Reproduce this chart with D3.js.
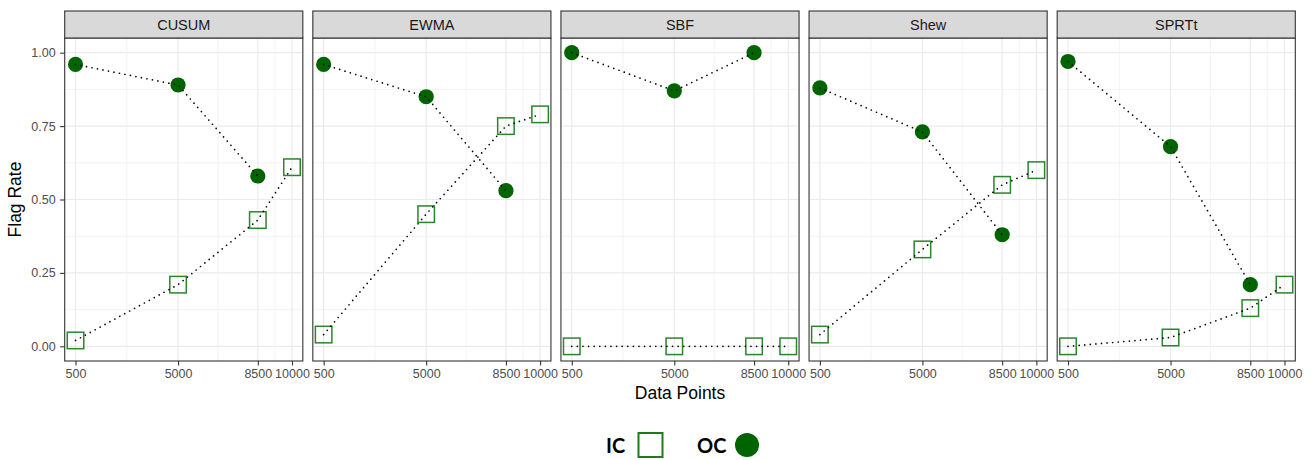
<!DOCTYPE html>
<html>
<head>
<meta charset="utf-8">
<script src="https://cdn.jsdelivr.net/npm/d3@7"></script>
<style>
  html, body { margin: 0; padding: 0; background: #ffffff; }
  svg { display: block; }
</style>
</head>
<body>
<svg id="chart" width="1312" height="460"></svg>
<script>
// Facets, sample sizes and flag rates per monitoring method
const methods = ["CUSUM", "EWMA", "SBF", "Shew", "SPRTt"];
const xTicks = [500, 5000, 8500, 10000];
const yTicks = [0, 0.25, 0.5, 0.75, 1];
const icSizes = [500, 5000, 8500, 10000];
const ocSizes = [500, 5000, 8500];
// in-control flag rate, one row per method
const icRate = [
  [0.02, 0.21, 0.43, 0.61],
  [0.04, 0.45, 0.75, 0.79],
  [0.00, 0.00, 0.00, 0.00],
  [0.04, 0.33, 0.55, 0.60],
  [0.00, 0.03, 0.13, 0.21]
];
// out-of-control flag rate, one row per method
const ocRate = [
  [0.96, 0.89, 0.58],
  [0.96, 0.85, 0.53],
  [1.00, 0.87, 1.00],
  [0.88, 0.73, 0.38],
  [0.97, 0.68, 0.21]
];
const legendLabels = ["IC", "OC"];

const svg = d3.select("#chart");
const font = "'Liberation Sans', Arial, Helvetica, sans-serif";

const left = 64.7, right = 1295.3, gap = 10;
const stripTop = 11, plotTop = 38, plotBottom = 361;
const panelW = (right - left - gap * (methods.length - 1)) / methods.length;
const panelH = plotBottom - plotTop;

const ocFill = "#006400";
const icStroke = "#2a862a";

// ggplot-style 5% expansion on each continuous axis
const xMin = 500, xMax = 10000, xPad = (xMax - xMin) * 0.05;
const x = d3.scaleLinear().domain([xMin - xPad, xMax + xPad]).range([0, panelW]);
const y = d3.scaleLinear().domain([-0.05, 1.05]).range([panelH, 0]);

const xMinor = d3.pairs(xTicks).map(([a, b]) => (a + b) / 2);
const yMinor = d3.pairs(yTicks).map(([a, b]) => (a + b) / 2);

const line = d3.line().x(d => x(d[0])).y(d => y(d[1]));

methods.forEach((m, i) => {
  const px = left + i * (panelW + gap);
  const g = svg.append("g").attr("transform", `translate(${px},${plotTop})`);

  // panel background and grid
  g.append("rect").attr("width", panelW).attr("height", panelH).attr("fill", "#ffffff");
  g.selectAll(".xminor").data(xMinor).join("line")
    .attr("x1", d => x(d)).attr("x2", d => x(d)).attr("y1", 0).attr("y2", panelH)
    .attr("stroke", "#ebebeb").attr("stroke-width", 0.6);
  g.selectAll(".yminor").data(yMinor).join("line")
    .attr("y1", d => y(d)).attr("y2", d => y(d)).attr("x1", 0).attr("x2", panelW)
    .attr("stroke", "#ebebeb").attr("stroke-width", 0.6);
  g.selectAll(".xmajor").data(xTicks).join("line")
    .attr("x1", d => x(d)).attr("x2", d => x(d)).attr("y1", 0).attr("y2", panelH)
    .attr("stroke", "#ebebeb").attr("stroke-width", 1.2);
  g.selectAll(".ymajor").data(yTicks).join("line")
    .attr("y1", d => y(d)).attr("y2", d => y(d)).attr("x1", 0).attr("x2", panelW)
    .attr("stroke", "#ebebeb").attr("stroke-width", 1.2);

  const ic = icSizes.map((s, k) => [s, icRate[i][k]]);
  const oc = ocSizes.map((s, k) => [s, ocRate[i][k]]);

  // markers
  const sq = 16.5;
  g.selectAll(".ic").data(ic).join("rect")
    .attr("x", d => x(d[0]) - sq / 2).attr("y", d => y(d[1]) - sq / 2)
    .attr("width", sq).attr("height", sq)
    .attr("fill", "none").attr("stroke", icStroke).attr("stroke-width", 1.5);
  g.selectAll(".oc").data(oc).join("circle")
    .attr("cx", d => x(d[0])).attr("cy", d => y(d[1])).attr("r", 7.6)
    .attr("fill", ocFill);

  // dotted connectors drawn over markers
  [ic, oc].forEach(series => {
    g.append("path").attr("d", line(series))
      .attr("fill", "none").attr("stroke", "#000000")
      .attr("stroke-width", 1.7).attr("stroke-linecap", "round")
      .attr("stroke-dasharray", "0,5.6");
  });

  // panel border
  g.append("rect").attr("width", panelW).attr("height", panelH)
    .attr("fill", "none").attr("stroke", "#333333").attr("stroke-width", 1.1);

  // strip
  const s = svg.append("g").attr("transform", `translate(${px},${stripTop})`);
  s.append("rect").attr("width", panelW).attr("height", plotTop - stripTop)
    .attr("fill", "#d9d9d9").attr("stroke", "#333333").attr("stroke-width", 1.1);
  s.append("text").attr("x", panelW / 2).attr("y", (plotTop - stripTop) / 2)
    .attr("dy", "0.36em").attr("text-anchor", "middle")
    .attr("font-family", font).attr("font-size", 14.5).attr("fill", "#1a1a1a")
    .text(m);

  // x axis
  const xa = g.append("g").attr("transform", `translate(0,${panelH})`)
    .call(d3.axisBottom(x).tickValues(xTicks).tickFormat(d3.format("d")).tickSize(4.5).tickPadding(4));
  xa.select(".domain").remove();
  xa.selectAll("line").attr("stroke", "#333333").attr("stroke-width", 1.1);
  xa.selectAll("text").attr("font-family", font).attr("font-size", 12.5).attr("fill", "#4d4d4d");

  // y axis on the first panel only
  if (i === 0) {
    const ya = g.append("g")
      .call(d3.axisLeft(y).tickValues(yTicks).tickFormat(d3.format(".2f")).tickSize(4.5).tickPadding(4.5));
    ya.select(".domain").remove();
    ya.selectAll("line").attr("stroke", "#333333").attr("stroke-width", 1.1);
    ya.selectAll("text").attr("font-family", font).attr("font-size", 12.5).attr("fill", "#4d4d4d");
  }
});

// axis titles
svg.append("text").attr("x", (left + right) / 2).attr("y", 399)
  .attr("text-anchor", "middle").attr("font-family", font).attr("font-size", 17.5).attr("fill", "#000000")
  .text("Data Points");
svg.append("text")
  .attr("transform", `translate(21,${(plotTop + plotBottom) / 2}) rotate(-90)`)
  .attr("text-anchor", "middle").attr("font-family", font).attr("font-size", 17.5).attr("fill", "#000000")
  .text("Flag Rate");

// legend
const lg = svg.append("g");
const legendFont = "Lato, 'Open Sans', sans-serif";
lg.append("text").attr("x", 606).attr("y", 453).attr("font-family", legendFont)
  .attr("font-weight", "bold").attr("font-size", 20).attr("fill", "#000000").text(legendLabels[0]);
lg.append("rect").attr("x", 638.5).attr("y", 433).attr("width", 24).attr("height", 24)
  .attr("fill", "none").attr("stroke", "#1e7a1e").attr("stroke-width", 2);
lg.append("text").attr("x", 697).attr("y", 453).attr("font-family", legendFont)
  .attr("font-weight", "bold").attr("font-size", 20).attr("fill", "#000000").text(legendLabels[1]);
lg.append("circle").attr("cx", 747).attr("cy", 445).attr("r", 12).attr("fill", ocFill);
</script>
</body>
</html>
